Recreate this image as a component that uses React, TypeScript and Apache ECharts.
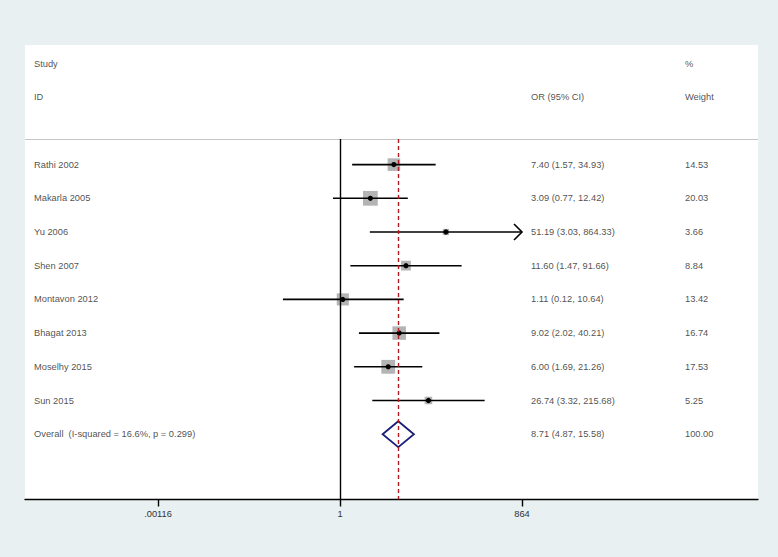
import React, { useEffect, useRef } from "react";
import * as echarts from "echarts";

// ---- data ----
const studies = [
  "Rathi 2002",
  "Makarla 2005",
  "Yu 2006",
  "Shen 2007",
  "Montavon 2012",
  "Bhagat 2013",
  "Moselhy 2015",
  "Sun 2015",
];
const orValues = [7.4, 3.09, 51.19, 11.6, 1.11, 9.02, 6.0, 26.74];
const ciLower = [1.57, 0.77, 3.03, 1.47, 0.12, 2.02, 1.69, 3.32];
const ciUpper = [34.93, 12.42, 864.33, 91.66, 10.64, 40.21, 21.26, 215.68];
const weights = [14.53, 20.03, 3.66, 8.84, 13.42, 16.74, 17.53, 5.25];

const overallLabel = "Overall  (I-squared = 16.6%, p = 0.299)";
const overallOR = [8.71];
const overallLower = [4.87];
const overallUpper = [15.58];
const overallWeight = [100.0];

const tickValues = [0.00116, 1, 864];
const tickLabels = [".00116", "1", "864"];

const headerTop = ["Study", "", "%"];
const headerBottom = ["ID", "OR (95% CI)", "Weight"];

// ---- layout constants ----
const PX_PER_UNIT = 182 / Math.log(864);
const pxToLn = (px: number) => (px - 340) / PX_PER_UNIT;
const X_MIN = pxToLn(25);
const X_MAX = pxToLn(758);
const ROW0 = 63.5;
const ROW_H = 33.7;
const GRID_TOP = 45;
const GRID_BOTTOM_PX = 499.5;
const Y_MIN = (GRID_TOP - ROW0) / ROW_H;
const Y_MAX = (GRID_BOTTOM_PX - ROW0) / ROW_H;
const SEP_ROW = (139 - ROW0) / ROW_H;
const FIRST_ROW = 3;
const COL_NAME = pxToLn(34);
const COL_OR = pxToLn(531);
const COL_W = pxToLn(685);
const TEXT_COLOR = "#222";
const FONT = "Liberation Sans, Arial, sans-serif";
const FONT_SIZE = 9.3;

const fmt = (v: number) => v.toFixed(2);

export default function App() {
  const ref = useRef<HTMLDivElement>(null);

  useEffect(() => {
    document.body.style.margin = "0";
    if (!ref.current) return;
    const chart = echarts.init(ref.current, undefined, { renderer: "svg" });

    const clipHi = Math.log(tickValues[tickValues.length - 1]);
    const overallRow = FIRST_ROW + studies.length;

    const studyData = studies.map((_, i) => [
      Math.log(ciLower[i]),
      Math.log(ciUpper[i]),
      Math.log(orValues[i]),
      FIRST_ROW + i,
      weights[i],
    ]);

    const overallData = overallOR.map((v, i) => [
      Math.log(overallLower[i]),
      Math.log(overallUpper[i]),
      Math.log(v),
      overallRow + i,
    ]);

    const textItems: any[] = [];
    const cols = [COL_NAME, COL_OR, COL_W];
    headerTop.forEach((t, c) => {
      if (t) textItems.push({ value: [cols[c], 0], name: t });
    });
    headerBottom.forEach((t, c) => {
      if (t) textItems.push({ value: [cols[c], 1], name: t });
    });
    studies.forEach((s, i) => {
      const row = FIRST_ROW + i;
      textItems.push({ value: [COL_NAME, row], name: s });
      textItems.push({
        value: [COL_OR, row],
        name: `${fmt(orValues[i])} (${fmt(ciLower[i])}, ${fmt(ciUpper[i])})`,
      });
      textItems.push({ value: [COL_W, row], name: fmt(weights[i]) });
    });
    overallOR.forEach((v, i) => {
      const row = overallRow + i;
      textItems.push({ value: [COL_NAME, row], name: overallLabel });
      textItems.push({
        value: [COL_OR, row],
        name: `${fmt(v)} (${fmt(overallLower[i])}, ${fmt(overallUpper[i])})`,
      });
      textItems.push({ value: [COL_W, row], name: fmt(overallWeight[i]) });
    });

    const tickLn = tickValues.map((v) => Math.log(v));
    const overallLn = Math.log(overallOR[0]);

    const option: any = {
      animation: false,
      backgroundColor: "transparent",
      grid: {
        left: 25,
        right: 778 - 758,
        top: GRID_TOP,
        bottom: 557 - GRID_BOTTOM_PX,
        show: true,
        backgroundColor: "#ffffff",
        borderWidth: 0,
      },
      xAxis: {
        type: "value",
        min: X_MIN,
        max: X_MAX,
        position: "bottom",
        axisLine: { show: true, onZero: false, lineStyle: { color: "#000", width: 1.3 } },
        axisTick: {
          show: true,
          customValues: tickLn,
          length: 7,
          inside: false,
          lineStyle: { color: "#000", width: 1.4 },
        },
        axisLabel: {
          show: true,
          customValues: tickLn,
          margin: 10,
          color: "#333",
          fontFamily: FONT,
          fontSize: FONT_SIZE,
          formatter: (v: number) => {
            let best = 0;
            tickLn.forEach((t, i) => {
              if (Math.abs(t - v) < Math.abs(tickLn[best] - v)) best = i;
            });
            return tickLabels[best];
          },
        },
        splitLine: { show: false },
      },
      yAxis: {
        type: "value",
        min: Y_MIN,
        max: Y_MAX,
        inverse: true,
        show: false,
      },
      series: [
        {
          type: "custom",
          name: "studies",
          silent: true,
          clip: false,
          data: studyData,
          renderItem: (params: any, api: any) => {
            const lo = api.value(0);
            const hi = api.value(1);
            const est = api.value(2);
            const row = api.value(3);
            const w = api.value(4);
            const arrow = hi > clipHi;
            const pLo = api.coord([lo, row]);
            const pHi = api.coord([arrow ? clipHi : hi, row]);
            const pE = api.coord([est, row]);
            const side = 3.3 * Math.sqrt(w);
            const children: any[] = [
              {
                type: "rect",
                shape: { x: pE[0] - side / 2, y: pE[1] - side / 2, width: side, height: side },
                style: { fill: "#b4b4b4" },
              },
              {
                type: "line",
                shape: { x1: pLo[0], y1: pLo[1], x2: pHi[0], y2: pHi[1] },
                style: { stroke: "#000", lineWidth: 1.6 },
              },
              {
                type: "circle",
                shape: { cx: pE[0], cy: pE[1], r: 2.6 },
                style: { fill: "#000" },
              },
            ];
            if (arrow) {
              children.push({
                type: "polyline",
                shape: {
                  points: [
                    [pHi[0] - 8, pHi[1] - 8],
                    [pHi[0], pHi[1]],
                    [pHi[0] - 8, pHi[1] + 8],
                  ],
                },
                style: { stroke: "#000", lineWidth: 1.6, fill: "none" },
              });
            }
            return { type: "group", children };
          },
        },
        {
          type: "custom",
          name: "overall",
          silent: true,
          clip: false,
          z: 3,
          data: overallData,
          renderItem: (params: any, api: any) => {
            const lo = api.coord([api.value(0), api.value(3)]);
            const hi = api.coord([api.value(1), api.value(3)]);
            const e = api.coord([api.value(2), api.value(3)]);
            const h = 13;
            return {
              type: "polygon",
              shape: {
                points: [
                  [lo[0], lo[1]],
                  [e[0], e[1] - h],
                  [hi[0], hi[1]],
                  [e[0], e[1] + h],
                ],
              },
              style: { fill: "none", stroke: "#1a1f78", lineWidth: 1.8 },
            };
          },
          markLine: {
            silent: true,
            symbol: "none",
            label: { show: false },
            data: [
              [
                { coord: [X_MIN, SEP_ROW], lineStyle: { color: "#c6c6c6", width: 1.2, type: "solid" } },
                { coord: [X_MAX, SEP_ROW] },
              ],
              [
                { coord: [0, SEP_ROW], lineStyle: { color: "#000", width: 1.4, type: "solid" } },
                { coord: [0, Y_MAX] },
              ],
              [
                { coord: [overallLn, SEP_ROW], lineStyle: { color: "#b01c24", width: 1.4, type: [4, 3] } },
                { coord: [overallLn, Y_MAX] },
              ],
            ],
          },
        },
        {
          type: "scatter",
          name: "texts",
          silent: true,
          symbolSize: 0,
          data: textItems,
          label: {
            show: true,
            position: "inside",
            align: "left",
            verticalAlign: "middle",
            formatter: "{b}",
            color: TEXT_COLOR,
            fontFamily: FONT,
            fontSize: FONT_SIZE,
          },
        },
      ],
    };

    chart.setOption(option);
    return () => chart.dispose();
  }, []);

  return (
    <div
      ref={ref}
      style={{ width: 778, height: 557, background: "#e8f0f1" }}
    />
  );
}
